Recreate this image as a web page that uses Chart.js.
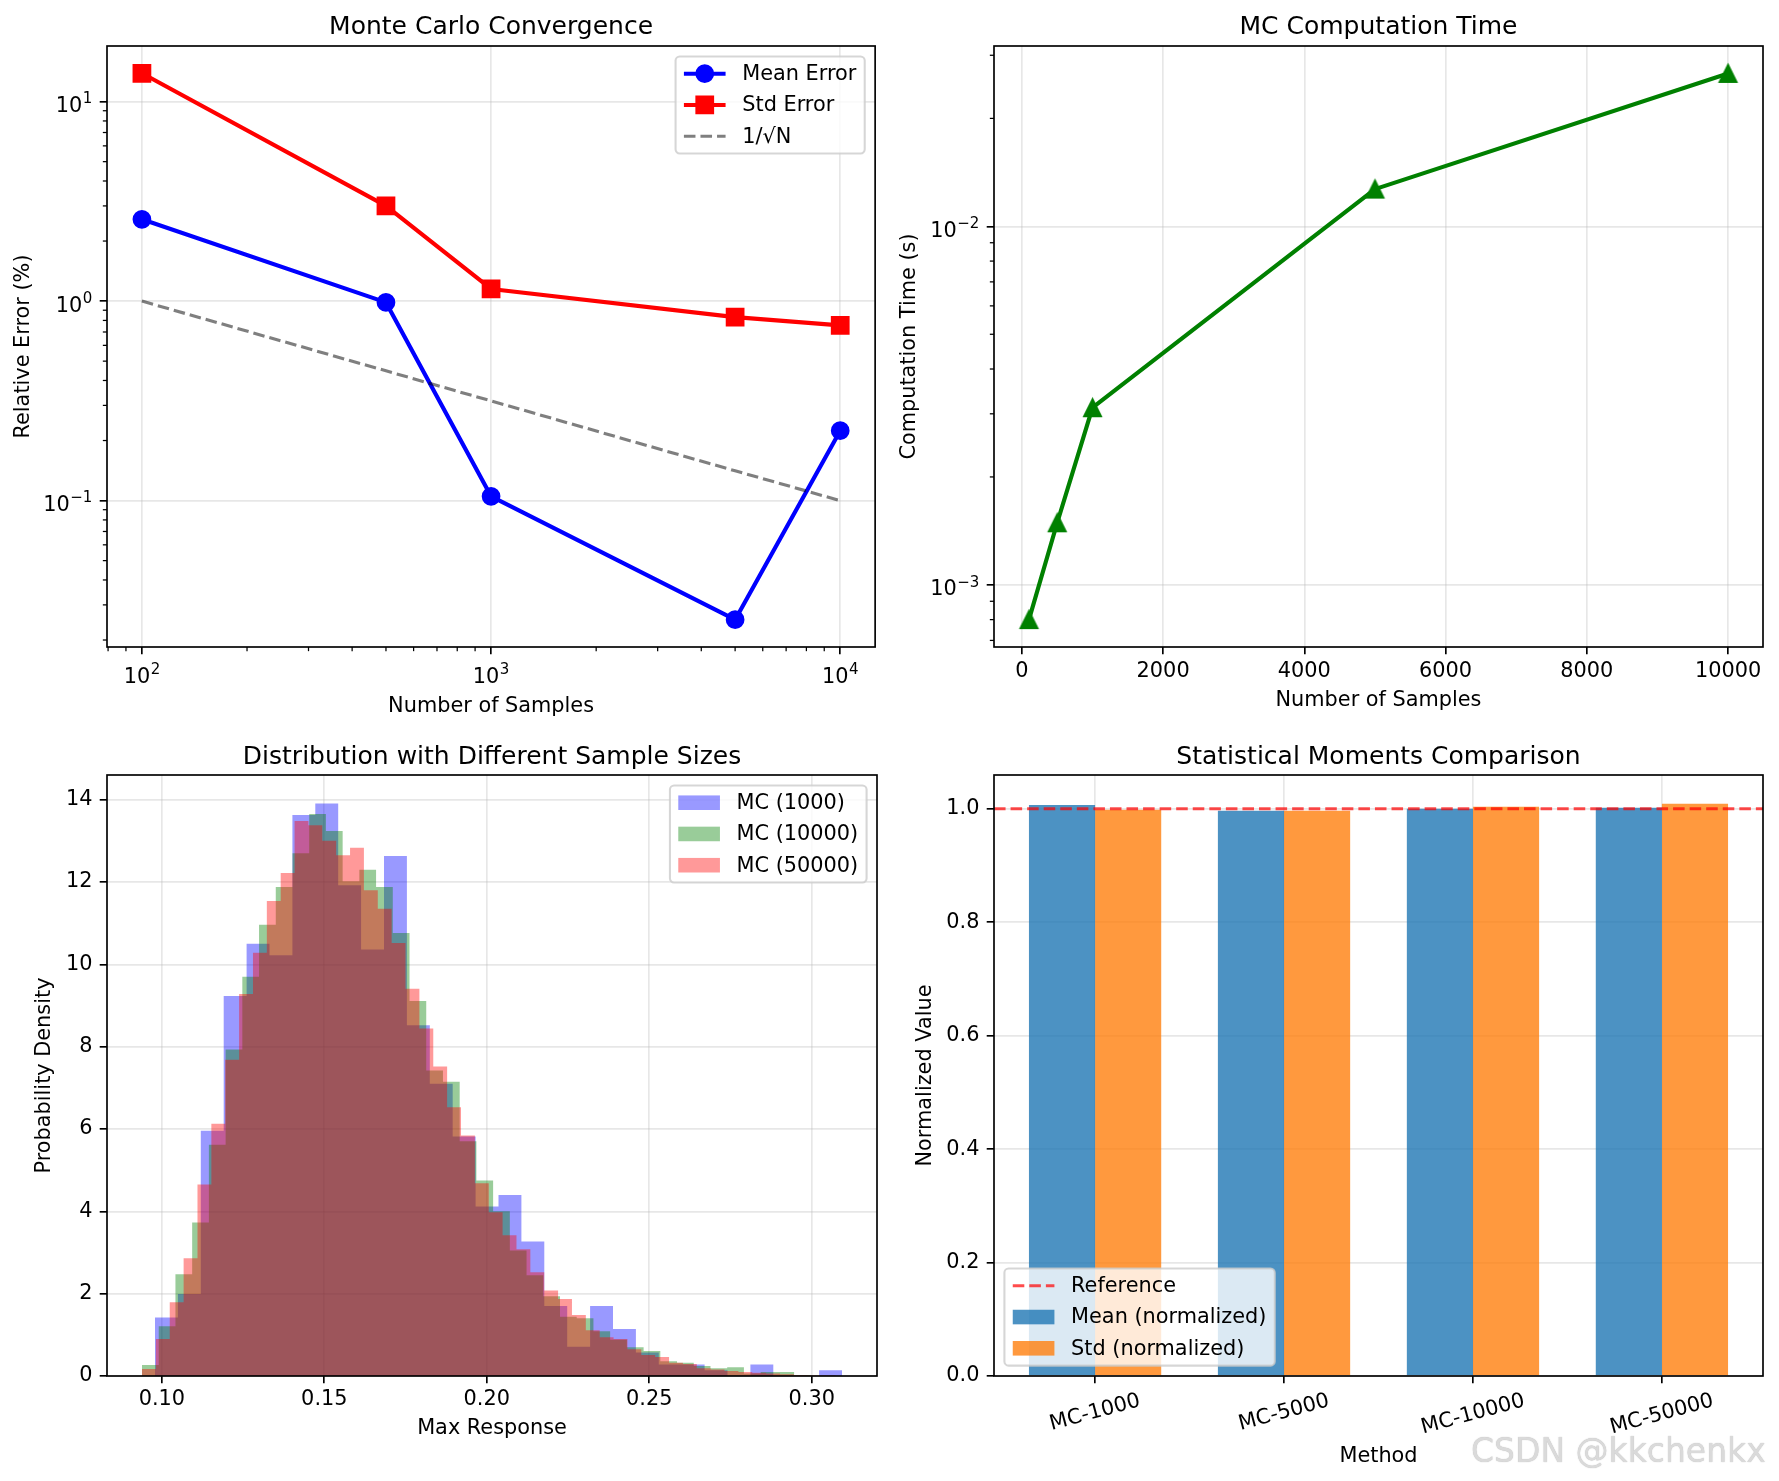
<!DOCTYPE html>
<html><head><meta charset="utf-8">
<script src="https://cdn.jsdelivr.net/npm/chart.js"></script>
<style>
html,body{margin:0;padding:0;background:#fff;}
#wrap{position:relative;width:1779px;height:1481px;overflow:hidden;background:#fff;}
canvas{position:absolute;}
#wm{position:absolute;left:1471px;top:1431px;font:33px 'DejaVu Sans',sans-serif;color:rgb(218,218,218);text-shadow:0 0 1px rgba(120,120,120,0.55);white-space:nowrap;}
</style></head><body>
<div id="wrap">
<canvas id="c1" width="889" height="740" style="left:0;top:0"></canvas>
<canvas id="c2" width="890" height="740" style="left:889px;top:0"></canvas>
<canvas id="c3" width="889" height="741" style="left:0;top:740px"></canvas>
<canvas id="c4" width="890" height="741" style="left:889px;top:740px"></canvas>
<div id="wm">CSDN @kkchenkx</div>
</div>
<script>
// ---------------- data ----------------
const sampleSizes = [100, 500, 1000, 5000, 10000];
const meanErrorPct = [2.57, 0.985, 0.105, 0.0253, 0.224];
const stdErrorPct = [13.87, 3.0, 1.15, 0.831, 0.756];
const invSqrtNRef = [1.0, 0.447, 0.316, 0.141, 0.1];
const computeTimeSec = [0.0008, 0.00149, 0.00312, 0.0127, 0.0267];

const hist1000Range = [0.0979, 0.3093];
const hist1000Density = [1.42, 1.99, 5.96, 9.23, 10.50, 10.22, 13.63, 13.91, 11.92, 10.36, 12.63, 8.52, 7.10, 5.82, 4.12, 4.40, 3.27, 1.70, 0.71, 1.70, 1.14, 0.57, 0.28, 0.28, 0.14, 0, 0.28, 0, 0, 0.14];
const hist10000Range = [0.0939, 0.2997];
const hist10000Density = [0.27, 1.21, 2.47, 3.73, 5.62, 7.93, 9.70, 10.96, 11.88, 12.70, 13.65, 13.24, 12.02, 12.30, 11.88, 10.76, 9.11, 7.42, 7.15, 5.70, 4.75, 4.00, 3.05, 2.45, 1.94, 1.44, 1.40, 1.09, 0.88, 0.70, 0.61, 0.36, 0.32, 0.24, 0.19, 0.21, 0.06, 0.10, 0.10, 0.02];
const hist50000Range = [0.0939, 0.3073];
const hist50000Density = [0.17, 0.90, 1.79, 2.86, 4.65, 6.13, 7.68, 9.28, 10.28, 11.54, 12.22, 13.48, 13.38, 13.00, 12.65, 12.83, 11.80, 11.35, 10.52, 9.41, 8.44, 7.52, 6.53, 5.84, 4.68, 3.98, 3.42, 3.08, 2.52, 2.08, 1.87, 1.48, 1.11, 0.94, 0.90, 0.65, 0.51, 0.46, 0.32, 0.29, 0.19, 0.16, 0.12, 0.10, 0.08, 0.06, 0.04, 0.02, 0.01, 0.01];

const methods = ['MC-1000', 'MC-5000', 'MC-10000', 'MC-50000'];
const methodPos = [0, 1, 2, 3];
const meanNormalized = [1.0067, 0.9966, 1.0000, 1.0017];
const stdNormalized = [0.9984, 0.9966, 1.0034, 1.0090];
const referenceValue = 1.0;

// ticks and tick labels
const ticksX1 = [100, 1000, 10000];
const expX1 = ['2', '3', '4'];
const ticksY1 = [0.1, 1, 10];
const expY1 = ['\u22121', '0', '1'];
const minorX1 = [80, 90, 200, 300, 400, 500, 600, 700, 800, 900, 2000, 3000, 4000, 5000, 6000, 7000, 8000, 9000];
const minorY1 = [0.02, 0.03, 0.04, 0.05, 0.06, 0.07, 0.08, 0.09, 0.2, 0.3, 0.4, 0.5, 0.6, 0.7, 0.8, 0.9, 2, 3, 4, 5, 6, 7, 8, 9];
const ticksX2 = [0, 2000, 4000, 6000, 8000, 10000];
const labelsX2 = ['0', '2000', '4000', '6000', '8000', '10000'];
const ticksY2 = [0.001, 0.01];
const expY2 = ['\u22123', '\u22122'];
const minorY2 = [0.0007, 0.0008, 0.0009, 0.002, 0.003, 0.004, 0.005, 0.006, 0.007, 0.008, 0.009, 0.02, 0.03];
const ticksX3 = [0.10, 0.15, 0.20, 0.25, 0.30];
const labelsX3 = ['0.10', '0.15', '0.20', '0.25', '0.30'];
const ticksY3 = [0, 2, 4, 6, 8, 10, 12, 14];
const labelsY3 = ['0', '2', '4', '6', '8', '10', '12', '14'];
const ticksY4 = [0, 0.2, 0.4, 0.6, 0.8, 1.0];
const labelsY4 = ['0.0', '0.2', '0.4', '0.6', '0.8', '1.0'];

// ---------------- style helpers ----------------
const PT = 150 / 72;
const FS = 10 * PT, FST = 12 * PT;
const FONT = "'DejaVu Sans', sans-serif";
const LW = 0.8 * PT;
const TLEN = 3.5 * PT;
const GRIDC = 'rgba(176,176,176,0.3)';
Chart.defaults.font.family = FONT;

function xy(xs, ys) { return xs.map((x, i) => ({x: x, y: ys[i]})); }
function histPoints(range, dens) {
  const w = (range[1] - range[0]) / dens.length;
  const pts = dens.map((h, i) => ({x: range[0] + i * w, y: h}));
  pts.push({x: range[1], y: 0});
  return pts;
}

function makeAxis(o) {
  const horiz = o.pos === 'bottom';
  return {
    type: o.type, position: o.pos, min: o.min, max: o.max, z: o.z || 0,
    offset: false, bounds: 'data',
    afterBuildTicks: s => { s.ticks = o.ticks.map(v => ({value: v})); },
    afterFit: s => {
      if (horiz) s.height = o.size; else s.width = o.size;
      s.paddingLeft = 0; s.paddingRight = 0; s.paddingTop = 0; s.paddingBottom = 0;
    },
    grid: { display: true, drawOnChartArea: true, color: GRIDC, lineWidth: LW, drawTicks: true,
            tickLength: TLEN, tickColor: '#000', tickWidth: LW, offset: false },
    border: { display: false },
    ticks: { display: o.labels !== null, autoSkip: false, maxRotation: 0, minRotation: 0,
             padding: o.labelPad, color: '#000', font: {family: FONT, size: FS, lineHeight: 1.2},
             callback: (v, i) => (o.labels ? o.labels[i] : '') },
    title: { display: true, text: o.title, color: '#000', font: {family: FONT, size: FS, lineHeight: 1},
             padding: horiz ? {top: 0, bottom: o.titlePad} : {top: o.titlePad, bottom: 0} }
  };
}

function common(scales, title, tpad, rightPad) {
  return {
    responsive: false, animation: false, devicePixelRatio: 1, events: [],
    layout: {padding: {left: 0, top: 0, bottom: 0, right: rightPad}},
    scales: scales,
    plugins: {
      legend: {display: false}, tooltip: {enabled: false},
      title: {display: true, text: title, fullSize: false, color: '#000',
              font: {family: FONT, size: FST, weight: 'normal', lineHeight: 1}, padding: tpad}
    }
  };
}

function triCanvas(color) {
  const side = 8 * PT, edge = PT;
  const s = Math.ceil(side + edge * 3);
  const c = document.createElement('canvas'); c.width = s; c.height = s;
  const g = c.getContext('2d');
  g.translate(s / 2, s / 2);
  g.beginPath(); g.moveTo(0, -side / 2); g.lineTo(-side / 2, side / 2); g.lineTo(side / 2, side / 2); g.closePath();
  g.fillStyle = color; g.fill(); g.lineWidth = edge; g.strokeStyle = color; g.stroke();
  return c;
}

function roundRect(ctx, x, y, w, h, r) {
  ctx.beginPath();
  ctx.moveTo(x + r, y); ctx.lineTo(x + w - r, y); ctx.arcTo(x + w, y, x + w, y + r, r);
  ctx.lineTo(x + w, y + h - r); ctx.arcTo(x + w, y + h, x + w - r, y + h, r);
  ctx.lineTo(x + r, y + h); ctx.arcTo(x, y + h, x, y + h - r, r);
  ctx.lineTo(x, y + r); ctx.arcTo(x, y, x + r, y, r); ctx.closePath();
}

function drawMarker(ctx, kind, x, y, color) {
  ctx.save(); ctx.fillStyle = color; ctx.strokeStyle = color; ctx.lineWidth = PT; ctx.setLineDash([]);
  const s = 4 * PT;
  ctx.beginPath();
  if (kind === 'circle') ctx.arc(x, y, s, 0, Math.PI * 2);
  else if (kind === 'square') ctx.rect(x - s, y - s, 2 * s, 2 * s);
  ctx.fill(); ctx.stroke(); ctx.restore();
}

// "10" with a raised exponent, like matplotlib mathtext
function drawPow10(ctx, exp, x, yBase, align) {
  const supFS = 0.72 * FS;
  ctx.font = FS + 'px ' + FONT; const wb = ctx.measureText('10').width;
  ctx.font = supFS + 'px ' + FONT; const we = ctx.measureText(exp).width;
  const total = wb + we + 0.5;
  const x0 = align === 'center' ? x - total / 2 : x - total;
  ctx.textBaseline = 'alphabetic'; ctx.textAlign = 'left'; ctx.fillStyle = '#000';
  ctx.font = FS + 'px ' + FONT; ctx.fillText('10', x0, yBase);
  ctx.font = supFS + 'px ' + FONT; ctx.fillText(exp, x0 + wb + 0.5, yBase - 0.42 * FS);
}

function drawLegend(chart, L) {
  const ctx = chart.ctx, ca = chart.chartArea;
  ctx.save();
  ctx.font = FS + 'px ' + FONT;
  const labels = L.items.map(it => chart.data.datasets[it.ds].label);
  const tw = Math.max.apply(null, labels.map(t => ctx.measureText(t).width));
  const pad = 0.4 * FS, hl = 2 * FS, htp = 0.8 * FS, pitch = 1.5 * FS, first = 0.83 * FS;
  const W = pad + hl + htp + tw + pad;
  const H = 2 * first + (labels.length - 1) * pitch;
  const off = 0.5 * FS;
  let x0, y0;
  if (L.loc === 'upper right') { x0 = ca.right - off - W; y0 = ca.top + off; }
  else { x0 = ca.left + off; y0 = ca.bottom - off - H; }
  roundRect(ctx, x0, y0, W, H, 0.2 * FS);
  ctx.fillStyle = 'rgba(255,255,255,0.8)'; ctx.fill();
  ctx.lineWidth = PT; ctx.strokeStyle = 'rgba(204,204,204,0.8)'; ctx.stroke();
  L.items.forEach((it, i) => {
    const cy = y0 + first + i * pitch;
    const hx = x0 + pad;
    if (it.kind === 'patch') {
      ctx.fillStyle = it.color; ctx.fillRect(hx, cy - 0.35 * FS, hl, 0.7 * FS);
    } else {
      ctx.save();
      ctx.strokeStyle = it.color; ctx.lineWidth = it.lw; ctx.setLineDash(it.dash || []);
      ctx.lineCap = 'butt';
      ctx.beginPath(); ctx.moveTo(hx, cy); ctx.lineTo(hx + hl, cy); ctx.stroke();
      ctx.restore();
      if (it.marker) drawMarker(ctx, it.marker, hx + hl / 2, cy, it.color);
    }
    ctx.fillStyle = '#000'; ctx.textBaseline = 'middle'; ctx.textAlign = 'left';
    ctx.fillText(labels[i], hx + hl + htp, cy + 1);
  });
  ctx.restore();
}

const decor = {
  c1: { minorX: minorX1, minorY: minorY1,
        powX: {values: ticksX1, exps: expX1}, powY: {values: ticksY1, exps: expY1},
        legend: {loc: 'upper right', items: [
          {ds: 0, kind: 'line', color: '#0000ff', lw: 2 * PT, marker: 'circle'},
          {ds: 1, kind: 'line', color: '#ff0000', lw: 2 * PT, marker: 'square'},
          {ds: 2, kind: 'line', color: 'rgba(0,0,0,0.5)', lw: 1.5 * PT, dash: [3.7 * 1.5 * PT, 1.6 * 1.5 * PT]}]}},
  c2: { minorY: minorY2, powY: {values: ticksY2, exps: expY2} },
  c3: { legend: {loc: 'upper right', items: [
          {ds: 0, kind: 'patch', color: 'rgba(0,0,255,0.4)'},
          {ds: 1, kind: 'patch', color: 'rgba(0,128,0,0.4)'},
          {ds: 2, kind: 'patch', color: 'rgba(255,0,0,0.4)'}]}},
  c4: { rotLabels: {values: methodPos, labels: methods, angle: 15},
        legend: {loc: 'lower left', items: [
          {ds: 2, kind: 'line', color: 'rgba(255,0,0,0.7)', lw: 1.5 * PT, dash: [3.7 * 1.5 * PT, 1.6 * 1.5 * PT]},
          {ds: 0, kind: 'patch', color: 'rgba(31,119,180,0.8)'},
          {ds: 1, kind: 'patch', color: 'rgba(255,127,14,0.8)'}]}}
};

const mplPlugin = {
  id: 'mplDecor',
  afterDraw(chart) {
    const cfg = decor[chart.canvas.id] || {};
    const ctx = chart.ctx, ca = chart.chartArea;
    ctx.save();
    ctx.strokeStyle = '#000'; ctx.lineWidth = 0.6 * PT;
    if (cfg.minorX) {
      const s = chart.scales.x;
      cfg.minorX.forEach(v => { const p = s.getPixelForValue(v); if (p < ca.left || p > ca.right) return;
        ctx.beginPath(); ctx.moveTo(p, ca.bottom); ctx.lineTo(p, ca.bottom + 2 * PT); ctx.stroke(); });
    }
    if (cfg.minorY) {
      const s = chart.scales.y;
      cfg.minorY.forEach(v => { const p = s.getPixelForValue(v); if (p < ca.top || p > ca.bottom) return;
        ctx.beginPath(); ctx.moveTo(ca.left, p); ctx.lineTo(ca.left - 2 * PT, p); ctx.stroke(); });
    }
    if (cfg.powX) {
      const s = chart.scales.x;
      cfg.powX.values.forEach((v, i) => drawPow10(ctx, cfg.powX.exps[i], s.getPixelForValue(v), ca.bottom + 35.8, 'center'));
    }
    if (cfg.powY) {
      const s = chart.scales.y;
      cfg.powY.values.forEach((v, i) => drawPow10(ctx, cfg.powY.exps[i], ca.left - 2 * TLEN, s.getPixelForValue(v) + 10.5, 'right'));
    }
    if (cfg.rotLabels) {
      const s = chart.scales.x, ang = cfg.rotLabels.angle * Math.PI / 180;
      ctx.font = FS + 'px ' + FONT; ctx.fillStyle = '#000'; ctx.textAlign = 'center'; ctx.textBaseline = 'middle';
      cfg.rotLabels.values.forEach((v, i) => {
        const lab = cfg.rotLabels.labels[i];
        const w = ctx.measureText(lab).width;
        const bh = w * Math.sin(ang) + FS * Math.cos(ang);
        const cx = s.getPixelForValue(v), cy = ca.bottom + 2 * TLEN + bh / 2;
        ctx.save(); ctx.translate(cx, cy); ctx.rotate(-ang); ctx.fillText(lab, 0, 0); ctx.restore();
      });
    }
    ctx.strokeStyle = '#000'; ctx.lineWidth = LW; ctx.setLineDash([]);
    ctx.strokeRect(ca.left, ca.top, ca.right - ca.left, ca.bottom - ca.top);
    ctx.restore();
    if (cfg.legend) drawLegend(chart, cfg.legend);
  }
};

// ---------------- chart 1: convergence ----------------
new Chart(document.getElementById('c1'), {
  type: 'line',
  data: { datasets: [
    {label: 'Mean Error', data: xy(sampleSizes, meanErrorPct), borderColor: '#0000ff', backgroundColor: '#0000ff',
     borderWidth: 2 * PT, borderJoinStyle: 'round', pointStyle: 'circle', pointRadius: 4 * PT, pointBorderWidth: PT,
     pointBackgroundColor: '#0000ff', pointBorderColor: '#0000ff', order: 3},
    {label: 'Std Error', data: xy(sampleSizes, stdErrorPct), borderColor: '#ff0000', backgroundColor: '#ff0000',
     borderWidth: 2 * PT, borderJoinStyle: 'round', pointStyle: 'rect', pointRadius: 4 * PT * Math.SQRT2, pointBorderWidth: PT,
     pointBackgroundColor: '#ff0000', pointBorderColor: '#ff0000', order: 2},
    {label: '1/\u221AN', data: xy(sampleSizes, invSqrtNRef), borderColor: 'rgba(0,0,0,0.5)', borderWidth: 1.5 * PT,
     borderDash: [3.7 * 1.5 * PT, 1.6 * 1.5 * PT], pointRadius: 0, order: 1}
  ]},
  options: common({
    x: makeAxis({type: 'logarithmic', pos: 'bottom', min: 79.43, max: 12589, ticks: ticksX1, labels: null,
                 size: 93, labelPad: 9, title: 'Number of Samples', titlePad: 22.8}),
    y: makeAxis({type: 'logarithmic', pos: 'left', min: 0.01845, max: 19.0, ticks: ticksY1, labels: null,
                 size: 107, labelPad: TLEN, title: 'Relative Error (%)', titlePad: 13.5})
  }, 'Monte Carlo Convergence', {top: 14.6, bottom: 6.4}, 13),
  plugins: [mplPlugin]
});

// ---------------- chart 2: computation time ----------------
new Chart(document.getElementById('c2'), {
  type: 'line',
  data: { datasets: [
    {label: 'Computation Time', data: xy(sampleSizes, computeTimeSec), borderColor: '#008000', backgroundColor: '#008000',
     borderWidth: 2 * PT, borderJoinStyle: 'round', pointStyle: triCanvas('#008000'), pointRadius: 9}
  ]},
  options: common({
    x: makeAxis({type: 'linear', pos: 'bottom', min: -395, max: 10495, ticks: ticksX2, labels: labelsX2,
                 size: 93, labelPad: 4.6, title: 'Number of Samples', titlePad: 29.4}),
    y: makeAxis({type: 'logarithmic', pos: 'left', min: 0.000671, max: 0.03184, ticks: ticksY2, labels: null,
                 size: 105, labelPad: TLEN, title: 'Computation Time (s)', titlePad: 10.5})
  }, 'MC Computation Time', {top: 14.6, bottom: 6.4}, 16),
  plugins: [mplPlugin]
});

// ---------------- chart 3: histograms ----------------
new Chart(document.getElementById('c3'), {
  type: 'line',
  data: { datasets: [
    {label: 'MC (1000)', data: histPoints(hist1000Range, hist1000Density), stepped: true, fill: 'origin',
     backgroundColor: 'rgba(0,0,255,0.4)', borderColor: 'rgba(0,0,0,0)', borderWidth: 1, pointRadius: 0, order: 3},
    {label: 'MC (10000)', data: histPoints(hist10000Range, hist10000Density), stepped: true, fill: 'origin',
     backgroundColor: 'rgba(0,128,0,0.4)', borderColor: 'rgba(0,0,0,0)', borderWidth: 1, pointRadius: 0, order: 2},
    {label: 'MC (50000)', data: histPoints(hist50000Range, hist50000Density), stepped: true, fill: 'origin',
     backgroundColor: 'rgba(255,0,0,0.4)', borderColor: 'rgba(0,0,0,0)', borderWidth: 1, pointRadius: 0, order: 1}
  ]},
  options: common({
    x: makeAxis({type: 'linear', pos: 'bottom', min: 0.08313, max: 0.32007, ticks: ticksX3, labels: labelsX3,
                 size: 105, labelPad: 4, title: 'Max Response', titlePad: 42.4, z: 1}),
    y: makeAxis({type: 'linear', pos: 'left', min: 0, max: 14.6, ticks: ticksY3, labels: labelsY3,
                 size: 107, labelPad: TLEN, title: 'Probability Density', titlePad: 34, z: 1})
  }, 'Distribution with Different Sample Sizes', {top: 4.7, bottom: 5.3}, 12),
  plugins: [mplPlugin]
});

// ---------------- chart 4: moments ----------------
const xMin4 = -0.535, xMax4 = 3.535;
new Chart(document.getElementById('c4'), {
  type: 'bar',
  data: { datasets: [
    {label: 'Mean (normalized)', data: xy(methodPos, meanNormalized), backgroundColor: 'rgba(31,119,180,0.8)',
     borderWidth: 0, categoryPercentage: 0.7, barPercentage: 1.0, order: 2},
    {label: 'Std (normalized)', data: xy(methodPos, stdNormalized), backgroundColor: 'rgba(255,127,14,0.8)',
     borderWidth: 0, categoryPercentage: 0.7, barPercentage: 1.0, order: 3},
    {type: 'line', label: 'Reference', data: [{x: xMin4, y: referenceValue}, {x: xMax4, y: referenceValue}],
     borderColor: 'rgba(255,0,0,0.7)', borderWidth: 1.5 * PT, borderDash: [3.7 * 1.5 * PT, 1.6 * 1.5 * PT],
     pointRadius: 0, order: 1}
  ]},
  options: common({
    x: makeAxis({type: 'linear', pos: 'bottom', min: xMin4, max: xMax4, ticks: methodPos, labels: null,
                 size: 105, labelPad: 4, title: 'Method', titlePad: 14.4}),
    y: makeAxis({type: 'linear', pos: 'left', min: 0, max: 1.0595, ticks: ticksY4, labels: labelsY4,
                 size: 105, labelPad: TLEN, title: 'Normalized Value', titlePad: 26})
  }, 'Statistical Moments Comparison', {top: 4.7, bottom: 5.3}, 16),
  plugins: [mplPlugin]
});
</script>
</body></html>
